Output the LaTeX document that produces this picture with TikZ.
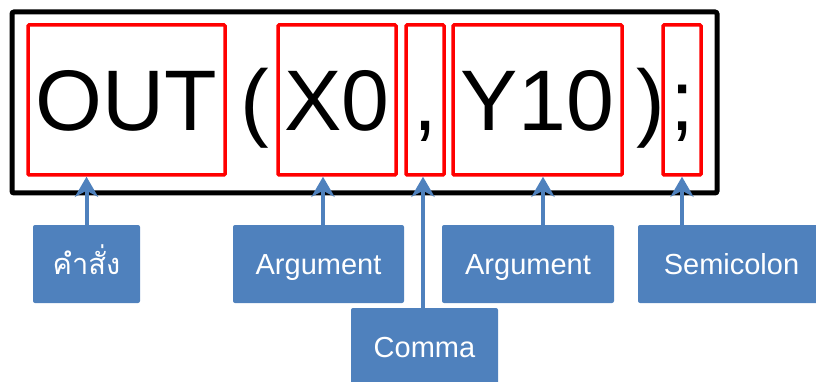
\documentclass[tikz,border=0pt]{standalone}
\usepackage{fontspec}
\setmainfont{Liberation Sans}
\newfontfamily\thaifont[Script=Thai]{Loma}
\usetikzlibrary{arrows.meta,positioning}
\definecolor{tagblue}{RGB}{79,129,189}
\definecolor{tokred}{RGB}{255,0,0}

\begin{document}
\begin{tikzpicture}[x=1pt, y=-1pt,
    tokbox/.style={draw=tokred, line width=3.5pt, rounded corners=1pt, minimum height=150pt,
        inner sep=0pt, font=\fontsize{86}{86}\selectfont, text height=62pt, text depth=0pt},
    toktext/.style={minimum height=150pt, inner sep=0pt,
        font=\fontsize{86}{86}\selectfont, text height=62pt, text depth=0pt},
    tagbox/.style={fill=tagblue, rounded corners=2pt, minimum height=78pt, text=white,
        font=\fontsize{29}{29}\selectfont, text height=21pt, text depth=0pt},
    arr/.style={draw=tagblue, line width=4pt, -{Stealth[length=20pt, width=23pt, inset=6pt]}}]
    \useasboundingbox (0,0) rectangle (816,382);

    \node[draw, line width=5pt, rounded corners=2pt, minimum width=705pt, minimum height=181pt] (frame) at (364.5,102.5) {};

    \node[tokbox, minimum width=197pt] (out) at (126.5,100) {OUT};
    \node[toktext] (lpar) at (255,100) {(};
    \node[tokbox, minimum width=118pt] (xarg) at (337,100) {X0};
    \node[tokbox, minimum width=38pt] (comma) at (425,100) {,};
    \node[tokbox, minimum width=169pt] (yarg) at (537.5,100) {Y10};
    \node[toktext] (rpar) at (651,100) {)};
    \node[tokbox, minimum width=38pt] (semi) at (682,100) {;};

    \node[tagbox, minimum width=107pt] (cmd) at (86.5,264) {\thaifont คำสั่ง};
    \node[tagbox, minimum width=171pt] (arga) at (318.5,264) {Argument};
    \node[tagbox, minimum width=147pt] (sep) at (424.5,347) {Comma};
    \node[tagbox, minimum width=172pt] (argb) at (528,264) {Argument};
    \node[tagbox, minimum width=187pt] (term) at (731.5,264) {Semicolon};

    \coordinate (pa) at ([xshift=4.5pt]arga.north);
    \coordinate (pb) at ([xshift=15pt]argb.north);

    \draw[arr] (cmd.north) -- (cmd.north |- out.south);
    \draw[arr] (pa) -- (pa |- xarg.south);
    \draw[arr] ([xshift=-1.5pt]sep.north) -- ([xshift=-1.5pt]sep.north |- comma.south);
    \draw[arr] (pb) -- (pb |- yarg.south);
    \draw[arr] (term.north -| semi.south) -- (semi.south);
\end{tikzpicture}
\end{document}
